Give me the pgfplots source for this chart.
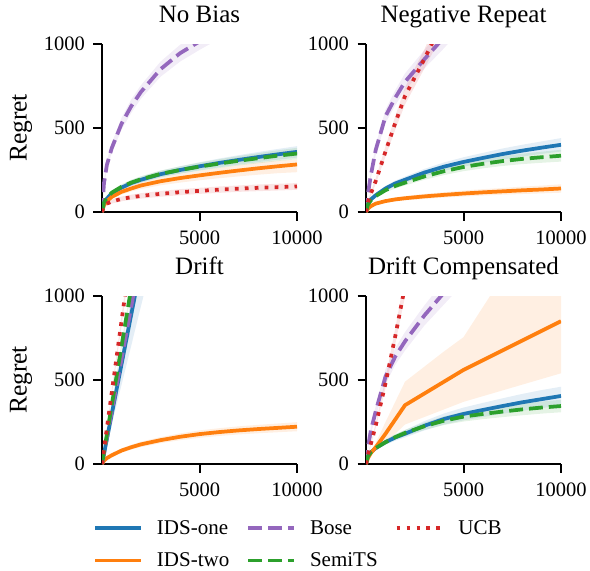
\documentclass[border=0pt]{standalone}
\usepackage{fontspec}
\setmainfont{Liberation Serif}
\usepackage{pgfplots}
\pgfplotsset{compat=1.18}
\usepackage{pgfplotstable}
\usepgfplotslibrary{fillbetween}

\definecolor{cA}{HTML}{1F77B4}
\definecolor{cB}{HTML}{FF7F0E}
\definecolor{cC}{HTML}{9467BD}
\definecolor{cD}{HTML}{2CA02C}
\definecolor{cE}{HTML}{D62728}

\pgfplotstableread{
x     Am  Al  Ah  Bm  Bl  Bh  Cm   Cl   Ch   Dm  Dl  Dh  Em  El  Eh
0     0   0   0   0   0   0   0    0    0    0   0   0   0   0   0
100   50  42  58  40  33  47  170  150  190  55  47  63  35  27  43
250   80  70  90  65  56  74  280  255  305  85  75  95  50  40  60
500   110 98  122 90  78  102 380  350  410  115 103 127 62  50  74
1000  145 130 160 120 104 136 525  490  560  150 135 165 78  64  92
1500  172 155 189 140 122 158 630  590  670  175 158 192 88  73  103
2000  192 174 210 158 137 178 715  675  755  195 177 213 96  80  112
3000  225 205 245 183 159 205 850  805  895  227 207 247 108 91  125
4000  250 228 272 202 175 227 945  895  995  250 228 272 118 100 136
5000  272 248 296 218 189 246 1015 965  1065 270 246 294 126 108 144
6000  292 266 318 233 201 263 1085 1030 1140 288 262 314 133 114 152
7000  310 282 338 247 212 279 1150 1095 1205 305 277 333 139 120 158
8000  327 297 357 260 222 294 1210 1150 1270 320 290 350 144 124 164
9000  343 311 375 272 231 306 1260 1200 1320 335 303 367 148 128 168
10000 358 324 392 283 237 312 1310 1250 1370 348 314 382 152 132 172
}\tNB

\pgfplotstableread{
x     Am  Al  Ah  Bm  Bl  Bh  Cm   Cl   Ch   Dm  Dl  Dh  Em   El   Eh
0     0   0   0   0   0   0   0    0    0    0   0   0   0    0    0
100   50  42  58  20  15  25  110  95   125  45  38  52  60   52   68
250   75  65  85  35  28  42  220  200  240  70  61  79  110  98   122
500   100 88  112 50  42  58  370  340  400  95  84  106 185  168  202
1000  140 125 155 65  55  75  570  530  610  130 117 143 360  330  390
1500  170 153 187 75  63  87  680  635  725  155 140 170 530  490  570
2000  192 173 211 82  69  95  775  725  825  175 158 192 690  640  740
3000  235 213 257 93  78  108 910  855  965  212 192 232 912  855  970
4000  270 245 295 102 86  118 1040 975  1105 243 220 266 1150 1080 1220
5000  298 270 326 110 92  128 1180 1105 1255 268 243 293 1400 1320 1480
6000  322 292 352 117 98  136 1300 1220 1380 287 260 314 1650 1560 1740
7000  345 312 378 123 103 143 1420 1330 1510 303 274 332 1900 1800 2000
8000  365 330 400 129 107 151 1540 1440 1640 316 285 347 2150 2040 2260
9000  383 346 420 134 111 157 1660 1550 1770 326 293 359 2400 2280 2520
10000 400 360 440 140 115 165 1780 1660 1900 335 300 370 2650 2520 2780
}\tNR

\pgfplotstableread{
x     Am   Al   Ah   Bm  Bl  Bh  Cm   Cl   Ch   Dm   Dl   Dh   Em   El   Eh
0     0    0    0    0   0   0   0    0    0    0    0    0    0    0    0
100   59   47   66   20  15  25  63   60   65   70   68   72   85   82   88
250   148  118  165  35  28  42  156  150  163  175  170  180  213  205  220
500   297  235  330  52  43  61  313  300  325  350  340  360  425  410  440
1000  593  470  660  80  68  92  625  600  650  700  680  720  850  820  880
1500  890  705  990  100 86  114 938  900  975  1050 1020 1080 1275 1230 1320
2000  1186 940  1320 117 101 133 1250 1200 1300 1400 1360 1440 1700 1640 1760
3000  1779 1410 1980 142 124 160 1875 1800 1950 2100 2040 2160 2550 2460 2640
4000  2372 1880 2640 162 142 182 2500 2400 2600 2800 2720 2880 3400 3280 3520
5000  2965 2350 3300 178 156 200 3125 3000 3250 3500 3400 3600 4250 4100 4400
6000  3558 2820 3960 190 167 213 3750 3600 3900 4200 4080 4320 5100 4920 5280
7000  4151 3290 4620 200 176 224 4375 4200 4550 4900 4760 5040 5950 5740 6160
8000  4744 3760 5280 208 183 233 5000 4800 5200 5600 5440 5760 6800 6560 7040
9000  5337 4230 5940 215 189 241 5625 5400 5850 6300 6120 6480 7650 7380 7920
10000 5930 4700 6600 222 195 249 6250 6000 6500 7000 6800 7200 8500 8200 8800
}\tDR

\pgfplotstableread{
x     Am  Al  Ah  Bm  Bl  Bh   Cm   Cl   Ch   Dm  Dl  Dh  Em   El   Eh
0     0   0   0   0   0   0    0    0    0    0   0   0   0    0    0
100   45  38  52  35  30  40   100  85   115  45  38  52  55   51   59
250   70  60  80  65  55  75   200  178  222  70  61  79  120  112  128
500   95  82  108 100 85  125  315  285  345  95  84  106 230  216  244
1000  130 114 146 180 130 250  520  475  565  130 117 143 480  451  509
1500  158 139 177 265 180 370  640  590  690  160 144 176 760  714  806
2000  180 158 202 350 235 490  730  675  785  185 167 203 1060 996  1124
3000  228 200 256 420 280 580  885  825  945  225 203 247 1640 1540 1740
4000  268 235 301 490 325 670  1020 950  1090 258 232 284 2220 2090 2350
5000  298 260 336 560 370 755  1150 1075 1225 282 253 311 2800 2630 2970
6000  322 280 364 618 404 935  1270 1190 1350 298 267 329 3380 3180 3580
7000  345 299 391 676 438 1115 1390 1300 1480 312 279 345 3960 3720 4200
8000  367 317 417 734 472 1295 1500 1405 1595 325 290 360 4540 4270 4810
9000  386 332 440 792 506 1475 1610 1510 1710 336 300 372 5120 4810 5430
10000 405 350 460 850 540 1655 1720 1610 1830 345 308 382 5700 5360 6040
}\tDC

\newcommand{\band}[4]{%
  \addplot[draw=none, forget plot, name path=l#4] table[x=x,y=#2l]{#1};
  \addplot[draw=none, forget plot, name path=h#4] table[x=x,y=#2h]{#1};
  \addplot[fill=#3, fill opacity=0.12, draw=none, forget plot] fill between[of=l#4 and h#4];
}
\newcommand{\allseries}[2]{%
  \band{#1}{A}{cA}{A#2}
  \band{#1}{B}{cB}{B#2}
  \band{#1}{C}{cC}{C#2}
  \band{#1}{D}{cD}{D#2}
  \band{#1}{E}{cE}{E#2}
  \addplot[lA, forget plot] table[x=x,y=Am]{#1};
  \addplot[lB, forget plot] table[x=x,y=Bm]{#1};
  \addplot[lC, forget plot] table[x=x,y=Cm]{#1};
  \addplot[lD, forget plot] table[x=x,y=Dm]{#1};
  \addplot[lE, forget plot] table[x=x,y=Em]{#1};
}

\pgfplotsset{
  lA/.style={color=cA, line width=3.75pt},
  lB/.style={color=cB, line width=3.75pt},
  lC/.style={color=cC, line width=3.75pt, dash pattern=on 13.9pt off 6pt},
  lD/.style={color=cD, line width=3.75pt, dash pattern=on 13.9pt off 6pt},
  lE/.style={color=cE, line width=3.75pt, dash pattern=on 3.75pt off 6.2pt},
  panel/.style={
    width=195pt, height=168pt, scale only axis,
    xmin=0, xmax=10000, ymin=0, ymax=1000,
    axis x line*=bottom, axis y line*=left,
    axis line style={line width=2pt, black},
    xtick={5000,10000}, ytick={0,500,1000},
    tick align=outside, major tick length=8.5pt,
    every tick/.append style={black, line width=2pt},
    tick label style={font=\fontsize{20.5}{24}\selectfont},
    xticklabel style={yshift=-7pt},
    yticklabel style={xshift=-5pt},
    /pgf/number format/assume math mode=true,
    /pgf/number format/1000 sep={},
    scaled ticks=false,
    title style={font=\fontsize{25}{30}\selectfont, at={(axis description cs:0.5,1)}, anchor=base, yshift=15.7pt},
    ylabel style={font=\fontsize{25.5}{30}\selectfont, at={(axis description cs:-0.386,0.5)}, anchor=base},
    legend image code/.code={\draw[##1] (0pt,0pt) -- (46pt,0pt);},
  },
}

\begin{document}
\begin{tikzpicture}
\path (0,0) rectangle (590pt,-567pt);

\begin{axis}[panel, at={(102pt,-212pt)}, anchor=south west, title={No Bias}, ylabel={Regret}]
\allseries{\tNB}{nb}
\end{axis}

\begin{axis}[panel, at={(366pt,-212pt)}, anchor=south west, title={Negative Repeat}]
\allseries{\tNR}{nr}
\end{axis}

\begin{axis}[panel, at={(102pt,-464pt)}, anchor=south west, title={Drift}, ylabel={Regret},
  legend style={at={(axis description cs:-0.046,-0.322)}, anchor=north west, draw=none, fill=none,
    font=\fontsize{21}{25}\selectfont, inner sep=0pt, row sep=13pt,
    nodes={inner xsep=0pt},
    /tikz/every odd column/.append style={column sep=14pt},
    /tikz/every even column/.append style={column sep=17pt}},
  legend columns=3, legend cell align=left]
\allseries{\tDR}{dr}
\addlegendimage{lA}\addlegendentry{IDS-one}
\addlegendimage{lC}\addlegendentry{Bose}
\addlegendimage{lE}\addlegendentry{UCB}
\addlegendimage{lB}\addlegendentry{IDS-two}
\addlegendimage{lD}\addlegendentry{SemiTS}
\end{axis}

\begin{axis}[panel, at={(366pt,-464pt)}, anchor=south west, title={Drift Compensated}]
\allseries{\tDC}{dc}
\end{axis}
\end{tikzpicture}
\end{document}
